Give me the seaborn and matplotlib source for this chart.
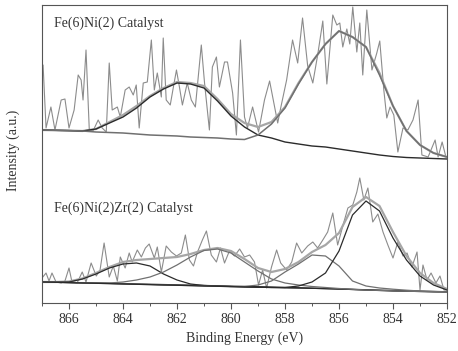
import matplotlib
matplotlib.use("Agg")
import matplotlib.pyplot as plt
import seaborn as sns

# ---- data (intensity in arbitrary units) ----
# grid used for the fitted curves
fit_E = [867.0, 866.5, 866.0, 865.5, 865.0, 864.5, 864.0, 863.5, 863.0, 862.5,
         862.0, 861.5, 861.0, 860.5, 860.0, 859.5, 859.0, 858.5, 858.0, 857.5,
         857.0, 856.5, 856.0, 855.5, 855.0, 854.5, 854.0, 853.5, 853.0, 852.5, 852.0]

# Fe(6)Ni(2) raw spectrum
top_E = [866.96, 866.85, 866.67, 866.52, 866.29, 866.15, 866.00, 865.81, 865.66, 865.55,
         865.48, 865.37, 865.25, 865.11, 864.92, 864.77, 864.62, 864.51, 864.40, 864.21,
         864.10, 863.92, 863.77, 863.62, 863.51, 863.40, 863.25, 863.10, 862.95, 862.84,
         862.73, 862.58, 862.51, 862.40, 862.25, 862.14, 862.02, 861.91, 861.80, 861.62,
         861.47, 861.32, 861.10, 860.98, 860.80, 860.69, 860.54, 860.43, 860.24, 860.13,
         859.94, 859.80, 859.65, 859.50, 859.39, 859.20, 858.98, 858.76, 858.57, 858.42,
         858.27, 858.16, 857.94, 857.72, 857.53, 857.35, 857.16, 856.97, 856.79, 856.60,
         856.45, 856.23, 856.08, 855.97, 855.86, 855.71, 855.60, 855.49, 855.34, 855.23,
         855.12, 854.97, 854.78, 854.60, 854.49, 854.34, 854.23, 854.11, 853.97, 853.82,
         853.63, 853.45, 853.26, 853.07, 852.93, 852.70, 852.44, 852.33, 852.18, 852.04]
top_I = [238, 175, 196, 173, 203, 204, 175, 193, 228, 223,
         203, 253, 174, 172, 183, 175, 171, 240, 193, 196,
         186, 213, 216, 208, 218, 175, 220, 221, 263, 213,
         230, 206, 265, 203, 198, 215, 233, 216, 198, 220,
         203, 196, 258, 220, 173, 236, 246, 216, 241, 241,
         210, 168, 263, 186, 175, 196, 171, 203, 222, 201,
         180, 195, 223, 263, 240, 285, 237, 220, 248, 282,
         219, 288, 278, 280, 256, 274, 259, 296, 251, 280,
         228, 293, 233, 250, 262, 213, 185, 196, 188, 151,
         175, 173, 183, 203, 148, 146, 163, 146, 161, 146]
top_peak1 = [173, 172.7, 172.4, 172, 174, 180, 186, 195, 206, 214,
             220, 219, 215, 202, 187, 176, 168, 165, 161, 159,
             157, 156, 154, 152, 150, 148, 146.5, 145.5, 145, 144.5, 144]
top_peak2 = [173, 172.7, 172.4, 172, 171, 170.5, 170, 169, 168, 167.5,
             167, 166, 165.5, 165, 164, 163.5, 168, 179, 195, 219,
             241, 259, 272, 266, 256, 228, 197, 172, 158, 150, 146]
top_env = [173, 172.7, 172.4, 172, 174, 181, 188, 197, 207, 215,
           221, 220, 217, 204, 189, 180, 176, 181, 196, 220,
           241, 259, 272, 266, 256, 230, 197, 172, 158, 150, 146]

# Fe(6)Ni(2)Zr(2) raw spectrum
bot_E = [867.00, 866.85, 866.74, 866.63, 866.48, 866.29, 866.15, 866.00, 865.89, 865.70,
         865.51, 865.37, 865.18, 864.99, 864.85, 864.70, 864.51, 864.36, 864.21, 864.10,
         863.92, 863.77, 863.66, 863.47, 863.32, 863.17, 863.03, 862.84, 862.73, 862.58,
         862.40, 862.21, 862.02, 861.84, 861.69, 861.54, 861.39, 861.24, 861.06, 860.91,
         860.73, 860.54, 860.39, 860.24, 860.06, 859.87, 859.68, 859.50, 859.31, 859.13,
         858.98, 858.83, 858.68, 858.50, 858.31, 858.16, 857.94, 857.75, 857.57, 857.38,
         857.16, 856.97, 856.79, 856.60, 856.42, 856.23, 856.05, 855.86, 855.67, 855.49,
         855.34, 855.23, 855.08, 854.93, 854.75, 854.56, 854.37, 854.19, 854.00, 853.82,
         853.63, 853.48, 853.30, 853.11, 853.00, 852.89, 852.74, 852.59, 852.41, 852.26,
         852.11, 852.00]
bot_I = [25, 30, 22, 30, 21, 20, 22, 35, 21, 20,
         31, 21, 40, 27, 33, 60, 26, 37, 22, 46,
         35, 50, 41, 53, 46, 55, 59, 45, 56, 31,
         57, 51, 47, 50, 68, 43, 37, 51, 63, 72,
         48, 41, 55, 40, 52, 47, 54, 46, 48, 41,
         18, 33, 15, 36, 53, 40, 33, 41, 60, 50,
         57, 61, 55, 63, 71, 90, 58, 77, 95, 98,
         111, 125, 103, 115, 81, 89, 71, 58, 45, 61,
         47, 50, 36, 51, 13, 38, 23, 30, 20, 27,
         13, 13]
bot_base = [21, 20.7, 20.5, 20.2, 20, 19.7, 19.4, 19, 18.7, 18.4,
            18.1, 17.8, 17.5, 17.1, 16.8, 16.5, 16.2, 15.9, 15.5, 15.2,
            14.8, 14.4, 14, 13.6, 13.2, 12.8, 12.5, 12.2, 11.8, 11.5, 11.2]
bot_peakA = [21, 20.8, 21, 24, 29, 35, 39, 40, 37, 29,
             23, 19, 17.5, 17, 16.5, 16, 15.8, 15.5, 15.2, 15,
             14.7, 14.4, 14, 13.5, 13, 12.5, 12, 11.8, 11.5, 11.2, 11]
bot_peakB = [21, 20.8, 20.5, 20.2, 20, 20, 21, 23, 26, 31,
             38, 46, 52.5, 54, 50, 41, 32, 24, 20, 18,
             16.5, 15.5, 14.5, 13.7, 13, 12.6, 12.2, 11.8, 11.5, 11.2, 11]
bot_peakC = [21, 20.7, 20.4, 20, 19.7, 19.4, 19, 18.7, 18.4, 18,
             17.7, 17.4, 17, 16.7, 16.4, 16.5, 18, 22, 31, 39,
             48, 47, 37, 22, 17, 15, 13.8, 12.8, 12, 11.5, 11]
bot_peakD = [21, 20.7, 20.4, 20, 19.7, 19.4, 19, 18.7, 18.4, 18,
             17.7, 17.4, 17, 16.7, 16.4, 16.1, 15.8, 15.5, 15.5, 17,
             21, 30, 52, 88, 102, 92, 65, 43, 27, 18, 13]
bot_env = [21, 21, 21.5, 24.5, 30, 36, 41, 43, 44, 45,
           46, 49, 53, 55, 52, 44, 35, 31, 34, 41,
           51, 58, 70, 96, 106, 97, 71, 47, 30, 20, 14]

xtick_major = [866, 864, 862, 860, 858, 856, 854, 852]
xtick_minor = [867, 865, 863, 861, 859, 857, 855, 853]

# ---- plotting ----
sns.set_style("ticks")
plt.rcParams['font.family'] = ['Liberation Serif', 'DejaVu Serif']

fig = plt.figure(figsize=(4.58, 3.51), dpi=100)
ax = fig.add_axes([42 / 458, 1 - 303 / 351, 405 / 458, 298 / 351])

raw_c = '#8c8c8c'
env_c = '#a6a6a6'
dark_c = '#2b2b2b'
mid_c = '#707070'

# raw spectra
sns.lineplot(x=top_E, y=top_I, ax=ax, color=raw_c, linewidth=0.8, estimator=None, sort=False)
sns.lineplot(x=bot_E, y=bot_I, ax=ax, color=raw_c, linewidth=0.8, estimator=None, sort=False)

# envelopes
sns.lineplot(x=fit_E, y=top_env, ax=ax, color=env_c, linewidth=1.6, estimator=None, sort=False)
sns.lineplot(x=fit_E, y=bot_env, ax=ax, color=env_c, linewidth=1.6, estimator=None, sort=False)

# fitted components
sns.lineplot(x=fit_E, y=top_peak1, ax=ax, color=dark_c, linewidth=1.0, estimator=None, sort=False)
sns.lineplot(x=fit_E, y=top_peak2, ax=ax, color=mid_c, linewidth=1.1, estimator=None, sort=False)
sns.lineplot(x=fit_E, y=bot_base, ax=ax, color=dark_c, linewidth=1.0, estimator=None, sort=False)
sns.lineplot(x=fit_E, y=bot_peakA, ax=ax, color=dark_c, linewidth=0.9, estimator=None, sort=False)
sns.lineplot(x=fit_E, y=bot_peakB, ax=ax, color=mid_c, linewidth=0.9, estimator=None, sort=False)
sns.lineplot(x=fit_E, y=bot_peakC, ax=ax, color=mid_c, linewidth=0.9, estimator=None, sort=False)
sns.lineplot(x=fit_E, y=bot_peakD, ax=ax, color=dark_c, linewidth=0.9, estimator=None, sort=False)

ax.text(866.55, 280, 'Fe(6)Ni(2) Catalyst', fontsize=10, color='#333333', ha='left', va='center')
ax.text(866.55, 95, 'Fe(6)Ni(2)Zr(2) Catalyst', fontsize=10, color='#333333', ha='left', va='center')

ax.set_xlim(867, 852)
ax.set_ylim(0, 298)
ax.set_xticks(xtick_major)
ax.set_xticks(xtick_minor, minor=True)
ax.set_yticks([])
ax.tick_params(axis='x', which='major', direction='out', length=4, width=0.8,
               color='#555555', labelsize=10, labelcolor='#333333', pad=3)
ax.tick_params(axis='x', which='minor', direction='out', length=2, width=0.7, color='#555555')

for side in ['left', 'right', 'top', 'bottom']:
    ax.spines[side].set_visible(True)
    ax.spines[side].set_color('#555555')
    ax.spines[side].set_linewidth(0.8)

ax.set_xlabel('Binding Energy (eV)', fontsize=10, color='#333333')
ax.set_ylabel('Intensity (a.u.)', fontsize=10, color='#333333')
ax.yaxis.set_label_coords(-0.055, 0.513)

fig.savefig('out.png', dpi=100)
